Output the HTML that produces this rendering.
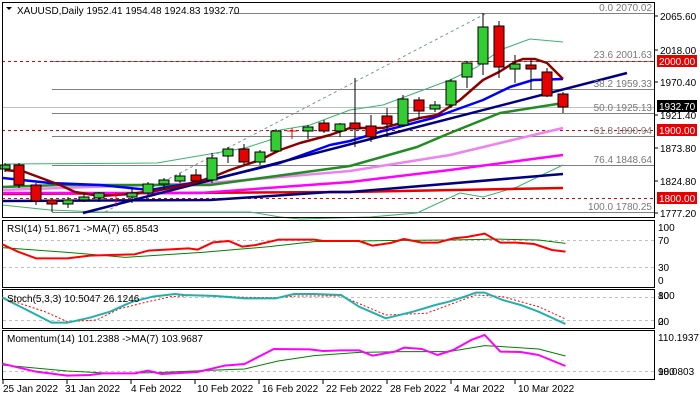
<!DOCTYPE html>
<html><head><meta charset="utf-8"><style>
body{margin:0;background:#fff}
svg{display:block;font-family:"Liberation Sans",sans-serif;font-size:10px}
</style></head><body>
<svg width="700" height="400" viewBox="0 0 700 400" xmlns="http://www.w3.org/2000/svg">
<rect width="700" height="400" fill="#fff"/>
<g stroke="#808080" stroke-width="1">
<line x1="52" y1="13.5" x2="654" y2="13.5"/>
<line x1="52" y1="61.5" x2="654" y2="61.5"/>
<line x1="52" y1="89.5" x2="654" y2="89.5"/>
<line x1="52" y1="113.5" x2="654" y2="113.5"/>
<line x1="52" y1="136.5" x2="654" y2="136.5"/>
<line x1="52" y1="165.5" x2="654" y2="165.5"/>
<line x1="52" y1="212.5" x2="654" y2="212.5"/>
</g>
<line x1="2" y1="107.5" x2="654" y2="107.5" stroke="#c0c0c0"/>
<g stroke="#e00000" stroke-dasharray="3,3">
<line x1="2" y1="61.5" x2="654" y2="61.5"/>
<line x1="2" y1="130.5" x2="654" y2="130.5"/>
<line x1="2" y1="198.5" x2="654" y2="198.5"/>
</g>
<line x1="105" y1="212" x2="487" y2="13" stroke="#8090a0" stroke-dasharray="3,3"/>
<g fill="none" stroke-linejoin="round">
<polyline stroke="#3cb371" stroke-width="1" points="5,164 157,163 245,148 270,140 280,130 310,125 350,110 383,105 450,80 477,67 500,50 530,39 563,42"/>
<polyline stroke="#3cb371" stroke-width="1" points="2,205 50,210 100,212 250,212 280,217 300,219 370,217 417,213 460,193 483,197 517,187 563,165"/>
<polyline stroke="#e80000" stroke-width="2.5" points="2,194 350,192 563,188"/>
<polyline stroke="#000080" stroke-width="2.5" points="2,201 210,200 330,192 350,192 563,174"/>
<polyline stroke="#ff00ff" stroke-width="2.5" points="2,193 200,193 350,182 450,170 563,155"/>
<polyline stroke="#ee82ee" stroke-width="2.5" points="2,190 210,183 350,171 450,155 500,143 563,128"/>
<polyline stroke="#228b22" stroke-width="2.5" points="2,187 60,185 210,185 350,166 417,147 450,133 500,113 557,104 563,104"/>
<polyline stroke="#0000ff" stroke-width="2.5" points="3,178 50,183 100,185 150,190 210,180 280,163 330,145 350,141 383,131 433,118 483,100 510,87 533,80 563,79"/>
<line x1="83" y1="213" x2="627" y2="73" stroke="#000080" stroke-width="2.5"/>
<polyline stroke="#8b0000" stroke-width="2.5" points="5,170 25,172 60,185 75,192 100,196 130,194 160,190 190,184 210,178 230,170 260,160 280,150 300,143 330,135 350,128 383,128 420,118 437,115 460,100 483,80 499,72 515,62 523,59 535,59 547,63 563,79"/>
</g>
<g fill="#777" text-anchor="end">
<text x="652" y="11">0.0 2070.02</text>
<text x="652" y="58">23.6 2001.63</text>
<text x="652" y="87">38.2 1959.33</text>
<text x="652" y="111">50.0 1925.13</text>
<text x="652" y="134">61.8 1890.94</text>
<text x="652" y="163">76.4 1848.64</text>
<text x="652" y="210">100.0 1780.25</text>
</g>
<g stroke="#000" stroke-width="1">
<line x1="5" y1="163" x2="5" y2="172"/><rect x="0" y="165" width="10" height="4" fill="#32cd32"/>
<line x1="19" y1="163" x2="19" y2="188"/><rect x="14" y="165" width="10" height="20" fill="#e80000"/>
<line x1="36" y1="183" x2="36" y2="205"/><rect x="31" y="185" width="10" height="16" fill="#e80000"/>
<line x1="52" y1="199" x2="52" y2="212"/><rect x="47" y="200" width="10" height="4" fill="#e80000"/>
<line x1="68" y1="197" x2="68" y2="208"/><rect x="63" y="200" width="10" height="4" fill="#32cd32"/>
<line x1="84" y1="194" x2="84" y2="202"/><rect x="79" y="197" width="10" height="3" fill="#32cd32"/>
<line x1="99" y1="192" x2="99" y2="202"/><rect x="94" y="193" width="10" height="5" fill="#32cd32"/>
<line x1="116" y1="192" x2="116" y2="205" stroke="#e80000"/><line x1="111" y1="195" x2="121" y2="195" stroke="#e80000"/>
<line x1="132" y1="188" x2="132" y2="203"/><rect x="127" y="193" width="10" height="4" fill="#32cd32"/>
<line x1="148" y1="182" x2="148" y2="195"/><rect x="143" y="184" width="10" height="9" fill="#32cd32"/>
<line x1="164" y1="178" x2="164" y2="190"/><rect x="159" y="180" width="10" height="4" fill="#32cd32"/>
<line x1="180" y1="173" x2="180" y2="183"/><rect x="175" y="176" width="10" height="5" fill="#32cd32"/>
<line x1="196" y1="169" x2="196" y2="182"/><rect x="191" y="175" width="10" height="6" fill="#e80000"/>
<line x1="212" y1="153" x2="212" y2="183"/><rect x="207" y="158" width="10" height="22" fill="#32cd32"/>
<line x1="228" y1="147" x2="228" y2="163"/><rect x="223" y="149" width="10" height="7" fill="#32cd32"/>
<line x1="244" y1="144" x2="244" y2="165"/><rect x="239" y="149" width="10" height="13" fill="#e80000"/>
<line x1="260" y1="150" x2="260" y2="165"/><rect x="255" y="152" width="10" height="10" fill="#32cd32"/>
<line x1="276" y1="129" x2="276" y2="152"/><rect x="271" y="131" width="10" height="20" fill="#32cd32"/>
<line x1="292" y1="128" x2="292" y2="139" stroke="#e80000"/><line x1="287" y1="131" x2="297" y2="131" stroke="#e80000"/>
<line x1="308" y1="125" x2="308" y2="139"/><rect x="303" y="127" width="10" height="4" fill="#32cd32"/>
<line x1="324" y1="120" x2="324" y2="133"/><rect x="319" y="123" width="10" height="8" fill="#e80000"/>
<line x1="340" y1="123" x2="340" y2="137"/><rect x="335" y="124" width="10" height="7" fill="#32cd32"/>
<line x1="355" y1="78" x2="355" y2="147"/><rect x="350" y="123" width="10" height="6" fill="#e80000"/>
<line x1="371" y1="115" x2="371" y2="142"/><rect x="366" y="126" width="10" height="11" fill="#e80000"/>
<line x1="387" y1="108" x2="387" y2="137"/><rect x="382" y="116" width="10" height="8" fill="#e80000"/>
<line x1="403" y1="95" x2="403" y2="127"/><rect x="398" y="99" width="10" height="26" fill="#32cd32"/>
<line x1="419" y1="97" x2="419" y2="119"/><rect x="414" y="100" width="10" height="11" fill="#e80000"/>
<line x1="435" y1="101" x2="435" y2="112"/><rect x="430" y="105" width="10" height="4" fill="#32cd32"/>
<line x1="451" y1="79" x2="451" y2="108"/><rect x="446" y="81" width="10" height="24" fill="#32cd32"/>
<line x1="467" y1="61" x2="467" y2="88"/><rect x="462" y="63" width="10" height="14" fill="#32cd32"/>
<line x1="483" y1="13" x2="483" y2="75"/><rect x="478" y="27" width="10" height="37" fill="#32cd32"/>
<line x1="499" y1="21" x2="499" y2="78"/><rect x="494" y="26" width="10" height="41" fill="#e80000"/>
<line x1="515" y1="55" x2="515" y2="83"/><rect x="510" y="64" width="10" height="5" fill="#32cd32"/>
<line x1="531" y1="60" x2="531" y2="90"/><rect x="526" y="65" width="10" height="4" fill="#e80000"/>
<line x1="547" y1="68" x2="547" y2="97"/><rect x="542" y="72" width="10" height="24" fill="#e80000"/>
<line x1="563" y1="92" x2="563" y2="113"/><rect x="558" y="94" width="10" height="13" fill="#e80000"/>
</g>
<rect x="3" y="3" width="230" height="13" fill="#fff"/>
<polygon points="6,7 12,7 9,10" fill="#000"/>
<text x="17" y="14" fill="#000">XAUUSD,Daily  1952.41 1954.48 1924.83 1932.70</text>
<g fill="none" stroke="#000" stroke-width="1">
<rect x="2.5" y="2.5" width="652" height="215"/>
<rect x="2.5" y="220.5" width="652" height="67"/>
<rect x="2.5" y="289.5" width="652" height="39"/>
<rect x="2.5" y="330.5" width="652" height="49"/>
</g>
<g fill="#000">
<text x="660" y="20">2065.60</text>
<text x="660" y="54">2018.00</text>
<text x="660" y="86">1970.40</text>
<text x="660" y="119">1921.40</text>
<text x="660" y="152">1873.80</text>
<text x="660" y="185">1824.80</text>
<text x="660" y="217">1777.20</text>
</g>
<g stroke="#000"><line x1="655" y1="16" x2="658" y2="16"/><line x1="655" y1="50" x2="658" y2="50"/><line x1="655" y1="82" x2="658" y2="82"/><line x1="655" y1="115" x2="658" y2="115"/><line x1="655" y1="148" x2="658" y2="148"/><line x1="655" y1="181" x2="658" y2="181"/><line x1="655" y1="213" x2="658" y2="213"/></g>
<rect x="657" y="55" width="40" height="12" fill="#e80000"/><text x="659" y="65" fill="#fff">2000.00</text>
<rect x="657" y="100" width="40" height="12" fill="#000"/><text x="659" y="110" fill="#fff">1932.70</text>
<rect x="657" y="124" width="40" height="12" fill="#e80000"/><text x="659" y="134" fill="#fff">1900.00</text>
<rect x="657" y="192" width="40" height="12" fill="#e80000"/><text x="659" y="202" fill="#fff">1800.00</text>
<g stroke="#c0c0c0" stroke-dasharray="3,3">
<line x1="3" y1="240.5" x2="654" y2="240.5"/>
<line x1="3" y1="267.5" x2="654" y2="267.5"/>
<line x1="3" y1="297.5" x2="654" y2="297.5"/>
<line x1="3" y1="320.5" x2="654" y2="320.5"/>
<line x1="3" y1="371.5" x2="654" y2="371.5"/>
</g>
<g transform="translate(0,215) scale(0.4488,0.33333)" fill="none" stroke-linejoin="round">
<polyline vector-effect="non-scaling-stroke" stroke="#008000" stroke-width="1" points="5,98 150,112 280,127 450,112 600,95 700,80 800,78 900,76 1000,75 1080,73 1100,72 1200,75 1260,85"/>
<polyline vector-effect="non-scaling-stroke" stroke="#ff0000" stroke-width="2" points="5,88 40,110 80,130 150,130 200,122 300,118 330,107 420,100 440,104 475,82 510,78 540,95 570,90 620,74 700,74 720,78 800,78 830,92 870,84 900,72 940,83 975,83 1010,70 1040,66 1080,56 1115,83 1150,83 1190,87 1230,105 1260,110"/>
<polyline vector-effect="non-scaling-stroke" stroke="#ff0000" stroke-width="1" stroke-dasharray="2,2" points="5,248 100,290 150,320 215,315 265,282 330,260 380,245 450,240 545,247 620,248 660,243 760,243 860,300 950,295 1060,240 1120,245 1200,275 1260,312"/>
<polyline vector-effect="non-scaling-stroke" stroke="#20b2aa" stroke-width="2" points="5,248 60,285 115,323 150,323 200,308 245,290 295,260 340,245 390,237 410,240 480,243 545,250 615,250 655,237 700,237 760,240 800,275 860,310 920,290 970,270 1000,260 1040,243 1060,233 1080,233 1120,255 1160,270 1200,290 1260,327"/>
<polyline vector-effect="non-scaling-stroke" stroke="#008000" stroke-width="1" points="5,450 150,468 250,475 350,473 450,467 545,462 620,438 700,422 800,412 900,410 1000,410 1080,392 1120,395 1200,402 1260,423"/>
<polyline vector-effect="non-scaling-stroke" stroke="#ff00ff" stroke-width="2" points="5,446 80,470 150,482 200,480 230,475 300,475 330,467 360,477 440,471 500,452 545,447 610,402 690,403 720,408 760,406 800,406 830,422 880,410 900,398 940,402 975,420 1010,405 1050,375 1080,360 1115,410 1160,411 1200,420 1260,453"/>
</g>
<g fill="#000">
<text x="7" y="232">RSI(14) 51.8671  -&gt;MA(7) 65.8543</text>
<text x="7" y="302">Stoch(5,3,3) 10.5047 26.1246</text>
<text x="7" y="342">Momentum(14) 101.2388  -&gt;MA(7) 103.9687</text>
<text x="658" y="231">100</text>
<text x="658" y="244">70</text>
<text x="658" y="271">30</text>
<text x="658" y="284">0</text>
<text x="658" y="299">100</text>
<text x="658" y="299">80</text>
<text x="658" y="325">20</text>
<text x="658" y="325">0</text>
<text x="658" y="341">110.1937</text>
<text x="658" y="375">98.0803</text>
<text x="658" y="375">100</text>
</g>
<g fill="#000">
<text x="3" y="392">25 Jan 2022</text>
<text x="65" y="392">31 Jan 2022</text>
<text x="131" y="392">4 Feb 2022</text>
<text x="197" y="392">10 Feb 2022</text>
<text x="262" y="392">16 Feb 2022</text>
<text x="326" y="392">22 Feb 2022</text>
<text x="390" y="392">28 Feb 2022</text>
<text x="454" y="392">4 Mar 2022</text>
<text x="518" y="392">10 Mar 2022</text>
</g>
<g stroke="#000"><line x1="3" y1="380" x2="3" y2="384"/><line x1="67" y1="380" x2="67" y2="384"/><line x1="131" y1="380" x2="131" y2="384"/><line x1="195" y1="380" x2="195" y2="384"/><line x1="259" y1="380" x2="259" y2="384"/><line x1="323" y1="380" x2="323" y2="384"/><line x1="387" y1="380" x2="387" y2="384"/><line x1="451" y1="380" x2="451" y2="384"/><line x1="515" y1="380" x2="515" y2="384"/></g>
</svg>
</body></html>
